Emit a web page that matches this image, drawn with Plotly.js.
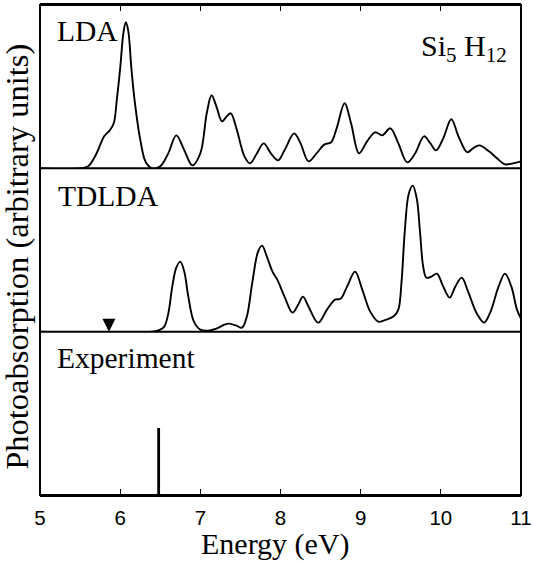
<!DOCTYPE html>
<html>
<head>
<meta charset="utf-8">
<script src="https://cdn.plot.ly/plotly-3.0.1.min.js"></script>
<style>html,body{margin:0;padding:0;background:#fff;}</style>
</head>
<body>
<div id="chart" style="width:533px;height:561px;"></div>
<script>
// ---- data (energies in eV, intensities in arbitrary units) ----
var ldaEnergy = [5.0,5.5,5.6,5.7,5.8,5.87,5.92,5.96,6.0,6.04,6.07,6.1,6.14,6.18,6.25,6.32,6.4,6.5,6.6,6.7,6.8,6.9,7.0,7.08,7.14,7.2,7.27,7.33,7.38,7.45,7.55,7.62,7.7,7.79,7.88,7.97,8.05,8.17,8.25,8.35,8.45,8.55,8.63,8.7,8.8,8.88,8.98,9.08,9.18,9.27,9.37,9.47,9.58,9.68,9.79,9.87,9.94,10.03,10.13,10.22,10.33,10.4,10.48,10.6,10.7,10.8,10.9,11.0];
var ldaAbs    = [0,0,2,14,32,38,45,70,100,135,146,138,100,68,29,6,0,2,15,33,18,3,15,55,73,62,47,52,55,40,12,5,14,25,15,8,18,35,25,7,15,24,26,40,65,45,15,27,36,33,40,25,6,15,32,25,18,30,49,32,16,20,23,17,10,4,5,7];

var tdldaEnergy = [5.0,6.4,6.5,6.55,6.6,6.65,6.7,6.75,6.8,6.85,6.92,7.0,7.1,7.2,7.3,7.36,7.45,7.52,7.58,7.65,7.72,7.77,7.83,7.9,7.96,8.05,8.15,8.22,8.28,8.35,8.47,8.58,8.68,8.75,8.83,8.93,9.02,9.12,9.22,9.32,9.42,9.47,9.51,9.55,9.6,9.65,9.7,9.74,9.78,9.82,9.88,9.95,10.03,10.11,10.18,10.26,10.34,10.45,10.54,10.62,10.72,10.8,10.88,10.95,11.0];
var tdldaAbs    = [0,0,2,5,18,45,64,70,60,35,10,2,1,3,7,8,6,4,15,50,80,86,75,60,52,35,19,27,35,25,9,22,32,33,45,60,42,20,10,12,16,22,50,100,138,146,133,100,65,54,55,58,45,34,45,54,40,18,9,20,45,58,45,22,13];

var onsetEnergy = [5.86];   // arrow marking the TDLDA onset
var onsetAbs    = [0];

var expEnergy = [6.48];
var expAbs    = [67];

var xTicks = [5,6,7,8,9,10,11];

// ---- chart ----
var lineStyle = {color:'#000', width:1.9, shape:'spline', smoothing:1};
var traces = [
  {x: ldaEnergy, y: ldaAbs, xaxis:'x2', yaxis:'y', type:'scatter', mode:'lines', line: lineStyle, cliponaxis:false, hoverinfo:'skip'},
  {x: tdldaEnergy, y: tdldaAbs, xaxis:'x', yaxis:'y2', type:'scatter', mode:'lines', line: lineStyle, cliponaxis:false, hoverinfo:'skip'},
  {x: onsetEnergy, y: onsetAbs, xaxis:'x', yaxis:'y2', type:'scatter', mode:'markers', cliponaxis:false,
   marker:{symbol:'arrow-down', size:13, color:'#000', line:{width:0}}, hoverinfo:'skip'},
  {x: expEnergy, y: expAbs, xaxis:'x', yaxis:'y3', type:'bar', width:0.035, marker:{color:'#000', line:{width:0}}, hoverinfo:'skip'}
];

var yBase = {showline:false, showticklabels:false, ticks:'', showgrid:false, zeroline:false, fixedrange:true, range:[0,163.3]};
function yax(domain){ var o = JSON.parse(JSON.stringify(yBase)); o.domain = domain; o.anchor = 'x'; return o; }

var layout = {
  width:533, height:561,
  margin:{l:40, r:12, t:5, b:66},
  paper_bgcolor:'#fff', plot_bgcolor:'#fff',
  showlegend:false,
  font:{family:'Liberation Serif', color:'#000'},
  xaxis:{anchor:'y3', domain:[0,1], range:[5,11], tickvals:xTicks, ticktext:xTicks.map(String),
         ticks:'inside', ticklen:6, tickwidth:1.2, tickcolor:'#000', showline:true, linewidth:2, linecolor:'#000',
         showgrid:false, zeroline:false, tickfont:{family:'Liberation Sans', size:20.5, color:'#000'}, ticklabelstandoff:3},
  xaxis2:{anchor:'y', side:'top', matches:'x', range:[5,11], tickvals:xTicks, showticklabels:false,
         ticks:'inside', ticklen:6, tickwidth:1.2, tickcolor:'#000', showline:true, linewidth:2, linecolor:'#000',
         showgrid:false, zeroline:false},
  yaxis: yax([2/3,1]),
  yaxis2: yax([1/3,2/3]),
  yaxis3: yax([0,1/3]),
  shapes:[
    {type:'rect', xref:'paper', yref:'paper', x0:0, x1:1, y0:0, y1:1, line:{color:'#000', width:2}},
    {type:'line', xref:'paper', yref:'paper', x0:0, x1:1, y0:1/3, y1:1/3, line:{color:'#000', width:2}},
    {type:'line', xref:'paper', yref:'paper', x0:0, x1:1, y0:2/3, y1:2/3, line:{color:'#000', width:2}}
  ],
  annotations:[
    {text:'LDA', xref:'paper', yref:'paper', x:0.031, y:0.946, xanchor:'left', yanchor:'middle', showarrow:false, font:{size:29.5}},
    {text:'TDLDA', xref:'paper', yref:'paper', x:0.033, y:0.611, xanchor:'left', yanchor:'middle', showarrow:false, font:{size:29.5}},
    {text:'Experiment', xref:'paper', yref:'paper', x:0.031, y:0.279, xanchor:'left', yanchor:'middle', showarrow:false, font:{size:29.5}},
    {text:'Si<sub>5</sub> H<sub>12</sub>', xref:'paper', yref:'paper', x:0.975, y:0.912, xanchor:'right', yanchor:'middle', showarrow:false, font:{size:30}},
    {text:'Energy (eV)', xref:'paper', yref:'paper', x:0.49, y:-0.099, xanchor:'center', yanchor:'middle', showarrow:false, font:{size:30}},
    {text:'Photoabsorption (arbitrary units)', xref:'paper', yref:'paper', x:-0.047, y:0.487, xanchor:'center', yanchor:'middle', textangle:-90, showarrow:false, font:{size:32.5}}
  ]
};

Plotly.newPlot('chart', traces, layout, {staticPlot:true, displayModeBar:false});
</script>
</body>
</html>
